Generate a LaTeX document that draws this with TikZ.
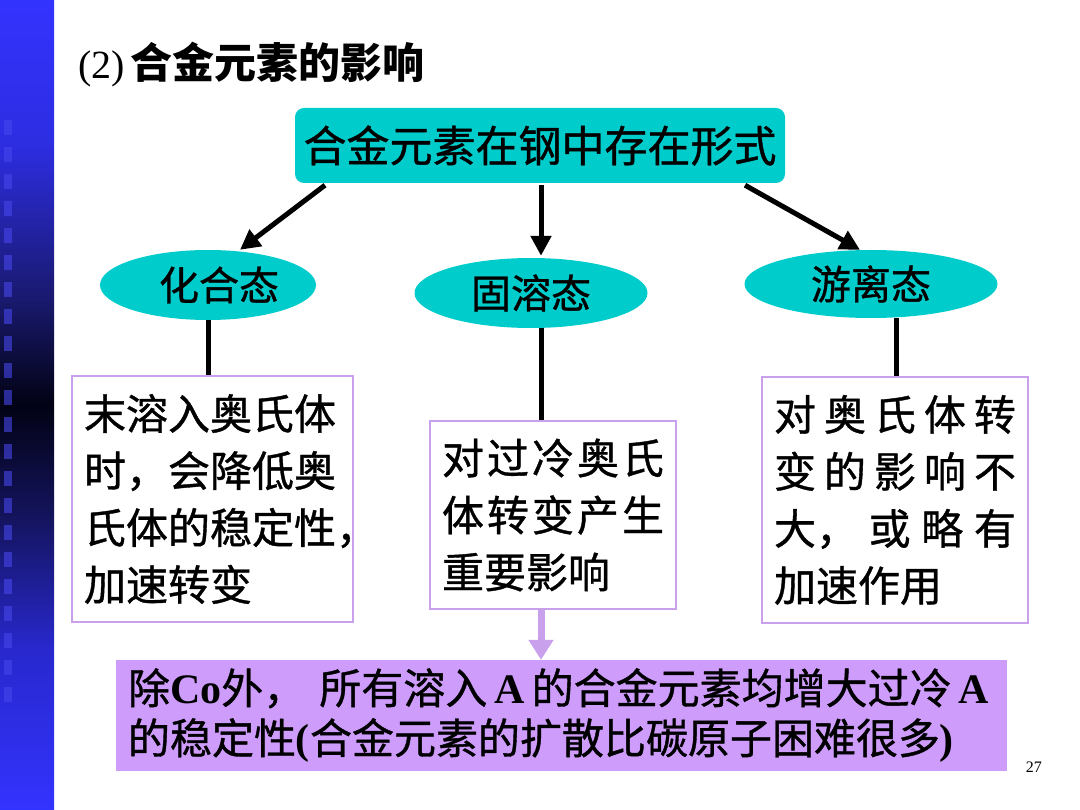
\documentclass[tikz,border=0pt]{standalone}
\usepackage{fontspec}
\setmainfont{Liberation Serif}
\newfontfamily\cjk{Noto Sans CJK SC}[FakeBold=0.9]
\newfontfamily\cjkt{Noto Sans CJK SC}
\newfontfamily\lat{Liberation Serif}
\usetikzlibrary{arrows.meta,shapes.geometric}
\definecolor{tealfill}{RGB}{0,204,204}
\definecolor{lavfill}{RGB}{206,156,250}
\definecolor{lavline}{RGB}{200,160,235}
\definecolor{barblue}{RGB}{51,51,255}
\definecolor{barmid}{RGB}{45,45,225}
\definecolor{barnavy}{RGB}{25,25,110}
\definecolor{barnavyb}{RGB}{20,20,95}
\definecolor{barlow}{RGB}{40,40,205}
\definecolor{bardark}{RGB}{2,2,20}
\definecolor{sqblue}{RGB}{70,70,235}
\pgfdeclareverticalshading{barshade}{100bp}{color(0bp)=(barblue); color(25bp)=(barblue); color(35bp)=(barlow); color(43bp)=(barnavyb); color(50bp)=(bardark); color(56.5bp)=(barnavy); color(66bp)=(barmid); color(75bp)=(barblue); color(100bp)=(barblue)}
\tikzset{
  topbox/.style={draw=none, fill=tealfill, rounded corners=9pt, minimum width=490pt, minimum height=75pt, inner sep=0pt, font=\cjk\fontsize{43}{43}\selectfont},
  ellnode/.style={ellipse, draw=none, fill=tealfill, inner sep=0pt, minimum height=70pt, font=\cjk\fontsize{40}{40}\selectfont},
  textbox/.style={draw=lavline, line width=2.5pt, fill=white, inner xsep=12pt, inner ysep=0pt, align=left, font=\cjk\fontsize{42}{57}\selectfont},
  botbox/.style={draw=none, fill=lavfill, inner xsep=12pt, inner ysep=0pt, minimum width=891pt, minimum height=111pt, text width=867pt, align=left, font=\cjk\fontsize{42}{50}\selectfont},
  blkarrow/.style={draw=black, line width=5pt, -{Triangle[length=20pt,width=20pt]}},
  blkline/.style={draw=black, line width=5pt},
  lavarrow/.style={draw=lavline, line width=7pt, -{Triangle[length=20pt,width=24pt]}},
  sq/.style={fill=sqblue, fill opacity=0.6}
}
\begin{document}
\begin{tikzpicture}[x=1pt,y=-1pt]
\useasboundingbox (0,0) rectangle (1080,810);
\fill[white] (0,0) rectangle (1080,810);
% left decorative bar
\shade[shading=barshade] (0,0) rectangle (54,810);
\foreach \yy in {120,147,...,700} { \fill[sq] (4,\yy) rectangle (12,\yy+15); }
% title
\node[anchor=base west, inner sep=0pt] (title) at (78,79) {\lat\fontsize{40}{40}\selectfont (2)\hspace{6pt}\cjkt\bfseries\fontsize{42}{42}\selectfont 合金元素的影响};
% top box
\node[topbox] (top) at (540,145.5) {合金元素在钢中存在形式};
% ellipses
\node[ellnode, minimum width=216pt] (e1) at (208,285) {\hspace*{22pt}化合态};
\node[ellnode, minimum width=233pt] (e2) at (531,293) {固溶态};
\node[ellnode, minimum width=253pt, minimum height=68pt] (e3) at (871,284) {游离态};
% text boxes
\node[textbox, minimum width=281pt, minimum height=246pt, text width=257pt] (b1) at (212.5,499)
  {末溶入奥氏体\\时，会降低奥\\氏体的稳定性，\\加速转变};
\node[textbox, minimum width=246pt, minimum height=188pt, text width=222pt] (b2) at (553,515)
  {对\hfill 过\hfill 冷\hfill 奥\hfill 氏\\体\hfill 转\hfill 变\hfill 产\hfill 生\\重要影响};
\node[textbox, minimum width=266pt, minimum height=246pt, text width=242pt] (b3) at (895,500)
  {对\hfill 奥\hfill 氏\hfill 体\hfill 转\\变\hfill 的\hfill 影\hfill 响\hfill 不\\大，\hfill 或\hfill 略\hfill 有\\加速作用};
% bottom box
\node[botbox] (bot) at (561.5,715.5)
  {除{\lat\bfseries Co}外，\hspace{14pt}所有溶入{\lat\bfseries\,A\,}的合金元素均增大过冷{\lat\bfseries\,A}\\的稳定性{\lat\bfseries (}合金元素的扩散比碳原子困难很多{\lat\bfseries )}};
% page number
\node[anchor=base east, inner sep=0pt, font=\lat\fontsize{16}{16}\selectfont] (pg) at (1042,772) {27};
% connectors
\draw[blkarrow] ([xshift=-215pt,yshift=-2pt]top.south) -- ([xshift=32pt]e1.north);
\draw[blkarrow] ([xshift=1pt,yshift=-2pt]top.south) -- ([xshift=10pt,yshift=2pt]e2.north);
\draw[blkarrow] ([xshift=205pt,yshift=-2pt]top.south) -- ([xshift=-11pt]e3.north);
\draw[blkline] (e1.south) -- (e1.south |- b1.north);
\draw[blkline] ([xshift=10pt]e2.south) -- ([xshift=10pt]e2.south |- b2.north);
\draw[blkline] ([xshift=25pt]e3.south) -- ([xshift=25pt]e3.south |- b3.north);
\draw[lavarrow] ([xshift=-12pt]b2.south) -- ([xshift=-12pt]b2.south |- bot.north);
\end{tikzpicture}
\end{document}
